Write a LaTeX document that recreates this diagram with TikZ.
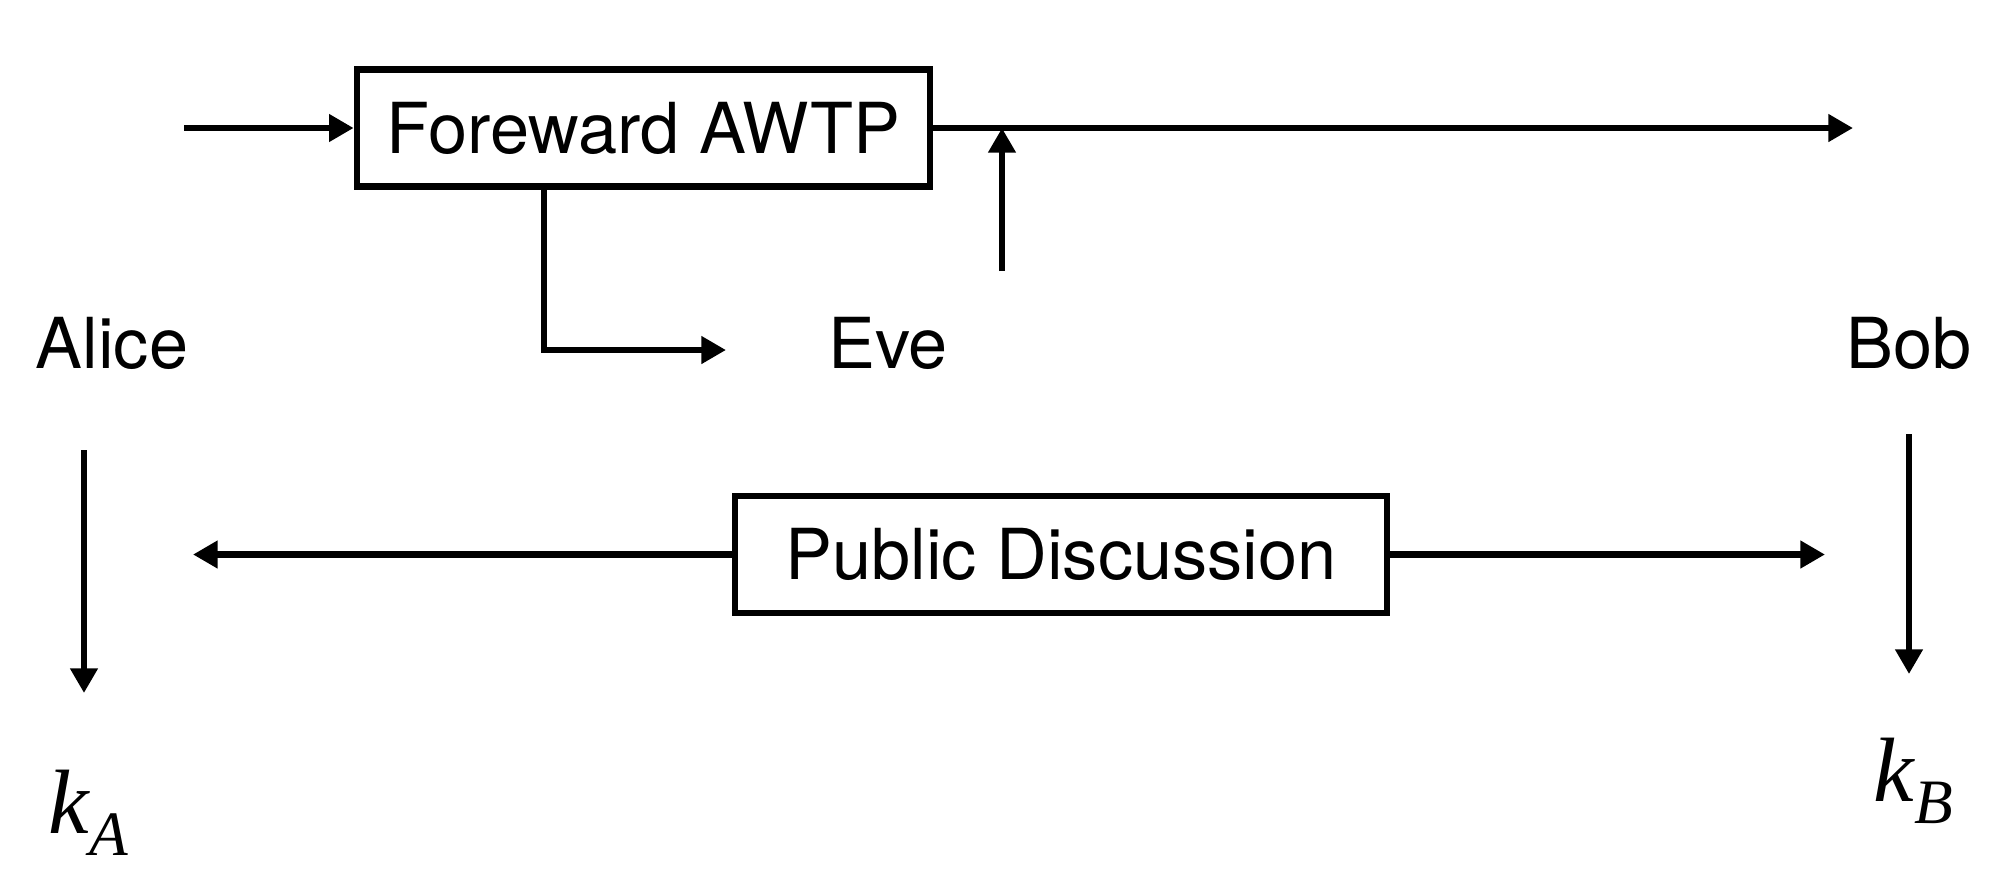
\documentclass[tikz,border=0pt]{standalone}
\usepackage{fontspec}
\setmainfont{TeX Gyre Heros}
\newfontfamily\keyfont{Liberation Serif}
\usetikzlibrary{arrows.meta}

\begin{document}
\begin{tikzpicture}[line join=miter,
  box/.style={draw,line width=1.9pt,minimum width=#1,minimum height=1.17cm,inner sep=0pt,font=\fontsize{20}{24}\selectfont},
  lbl/.style={inner sep=0pt,font=\fontsize{20}{24}\selectfont},
  keylbl/.style={inner sep=0pt,anchor=base west,font=\keyfont\itshape\fontsize{26}{30}\selectfont},
  arr/.style={line width=1.9pt,-{Triangle[length=7pt,width=7.5pt]}}]
  \useasboundingbox (0,0) rectangle (19.94,-8.68);
  % forward AWTP
  \node[box=5.73cm] (awtp) at (6.435,-1.28) {Foreward AWTP};
  \coordinate (in) at (1.84,-1.28);
  \coordinate (out) at (18.53,-1.28);
  \coordinate (tap) at (10.02,-2.71);
  \coordinate (bend) at (5.44,-3.50);
  \coordinate (leak) at (7.26,-3.50);
  \draw[arr] (in) -- (awtp.west);
  \draw[arr] (awtp.east) -- (out);
  \draw[arr] (tap) -- (tap |- out);
  \draw[arr] (bend |- awtp.south) -- (bend) -- (leak);
  % parties
  \node[lbl] (alice) at (1.12,-3.43) {Alice};
  \node[lbl] (eve) at (8.88,-3.43) {Eve};
  \node[lbl] (bob) at (19.09,-3.43) {Bob};
  % public discussion
  \node[box=6.52cm] (pub) at (10.61,-5.545) {Public Discussion};
  \coordinate (pl) at (1.93,-5.545);
  \coordinate (pr) at (18.25,-5.545);
  \draw[arr] (pub.west) -- (pl);
  \draw[arr] (pub.east) -- (pr);
  % keys
  \node[keylbl] (ka) at (0.48,-8.33) {k\raisebox{-6.5pt}{\fontsize{18}{20}\selectfont A}};
  \node[keylbl] (kb) at (18.73,-8.01) {k\raisebox{-6.5pt}{\fontsize{18}{20}\selectfont B}};
  \coordinate (a1) at (0.84,-4.50);
  \coordinate (a2) at (0.84,-6.93);
  \coordinate (b1) at (19.09,-4.34);
  \coordinate (b2) at (19.09,-6.74);
  \draw[arr] (a1) -- (a2);
  \draw[arr] (b1) -- (b2);
\end{tikzpicture}
\end{document}
